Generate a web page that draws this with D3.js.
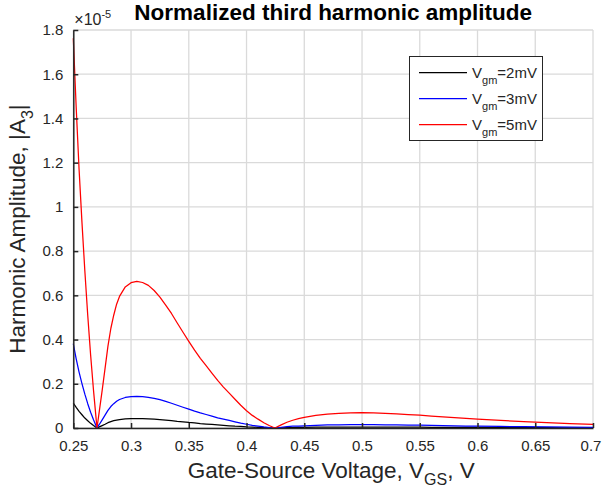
<!DOCTYPE html>
<html>
<head>
<meta charset="utf-8">
<script src="https://cdn.jsdelivr.net/npm/d3@7"></script>
<style>
  html, body { margin: 0; padding: 0; background: #fff; }
  svg { display: block; }
  text { font-family: "Liberation Sans", Arial, Helvetica, sans-serif; }
</style>
</head>
<body>
<svg id="chart" width="602" height="489"></svg>
<script>
// ---------------- data ----------------
const vgs = [0.25, 0.2525, 0.255, 0.2575, 0.26, 0.2625, 0.265, 0.2675, 0.2705,
  0.2725, 0.275, 0.2775, 0.28, 0.2825, 0.285, 0.2875, 0.29, 0.295, 0.3, 0.305,
  0.31, 0.315, 0.32, 0.325, 0.33, 0.335, 0.34, 0.345, 0.35, 0.355, 0.36, 0.365,
  0.37, 0.375, 0.38, 0.385, 0.39, 0.395, 0.4, 0.405, 0.41, 0.415, 0.42, 0.4245,
  0.43, 0.435, 0.44, 0.445, 0.45, 0.46, 0.47, 0.48, 0.49, 0.5, 0.51, 0.52, 0.53,
  0.54, 0.55, 0.56, 0.57, 0.58, 0.59, 0.6, 0.62, 0.64, 0.66, 0.68, 0.7];

// values in units of 1e-5
const amp2mV = [0.113, 0.093, 0.075, 0.060, 0.045, 0.033, 0.021, 0.011, 0,
  0.005, 0.011, 0.017, 0.024, 0.029, 0.033, 0.036, 0.038, 0.041, 0.042, 0.042,
  0.042, 0.041, 0.040, 0.038, 0.036, 0.033, 0.030, 0.028, 0.025, 0.023, 0.020, 0.018,
  0.016, 0.014, 0.012, 0.010, 0.008, 0.007, 0.005, 0.004, 0.003, 0.002, 0.001, 0,
  0.001, 0.002, 0.002, 0.003, 0.003, 0.004, 0.004, 0.004, 0.004, 0.004, 0.004, 0.004, 0.004,
  0.004, 0.004, 0.003, 0.003, 0.003, 0.003, 0.003, 0.002, 0.002, 0.002, 0.001, 0.001];

const amp3mV = [0.381, 0.313, 0.253, 0.201, 0.153, 0.110, 0.071, 0.037, 0,
  0.016, 0.037, 0.058, 0.080, 0.097, 0.110, 0.121, 0.129, 0.138, 0.142, 0.143,
  0.142, 0.139, 0.134, 0.128, 0.120, 0.112, 0.103, 0.094, 0.085, 0.076, 0.068, 0.061,
  0.054, 0.046, 0.040, 0.034, 0.028, 0.022, 0.017, 0.012, 0.009, 0.005, 0.002, 0,
  0.003, 0.006, 0.008, 0.009, 0.010, 0.012, 0.014, 0.014, 0.015, 0.015, 0.015, 0.014, 0.014,
  0.013, 0.013, 0.012, 0.011, 0.010, 0.009, 0.009, 0.007, 0.006, 0.005, 0.004, 0.003];

const amp5mV = [1.763, 1.45, 1.17, 0.93, 0.71, 0.51, 0.33, 0.17, 0,
  0.075, 0.17, 0.27, 0.37, 0.45, 0.51, 0.56, 0.595, 0.638, 0.657, 0.663,
  0.658, 0.645, 0.622, 0.592, 0.556, 0.518, 0.475, 0.433, 0.392, 0.352, 0.315, 0.282,
  0.248, 0.215, 0.185, 0.158, 0.13, 0.103, 0.078, 0.057, 0.04, 0.024, 0.01, 0,
  0.014, 0.026, 0.035, 0.042, 0.048, 0.057, 0.063, 0.066, 0.068, 0.069, 0.068, 0.066, 0.064,
  0.061, 0.058, 0.054, 0.05, 0.047, 0.043, 0.04, 0.034, 0.029, 0.024, 0.02, 0.016];

const seriesNames = ["2mV", "3mV", "5mV"];
const seriesColors = ["#000000", "#0000ff", "#ff0000"];
const seriesValues = [amp2mV, amp3mV, amp5mV];

const xTicks = [0.25, 0.3, 0.35, 0.4, 0.45, 0.5, 0.55, 0.6, 0.65, 0.7];
const xTickLabels = ["0.25", "0.3", "0.35", "0.4", "0.45", "0.5", "0.55", "0.6", "0.65", "0.7"];
const yTicks = [0, 0.2, 0.4, 0.6, 0.8, 1, 1.2, 1.4, 1.6, 1.8];
const yTickLabels = ["0", "0.2", "0.4", "0.6", "0.8", "1", "1.2", "1.4", "1.6", "1.8"];

// ---------------- layout ----------------
const svg = d3.select("#chart");
const pL = 73.3, pR = 593, pT = 30, pB = 428;
const axisColor = "#262626";

const x = d3.scaleLinear().domain([0.25, 0.7]).range([pL, pR]);
const y = d3.scaleLinear().domain([0, 1.8]).range([pB, pT]);

// grid
const grid = svg.append("g");
grid.selectAll("line.vg").data(xTicks).enter().append("line")
  .attr("x1", d => x(d)).attr("x2", d => x(d))
  .attr("y1", pT).attr("y2", pB)
  .attr("stroke", "#dadada").attr("stroke-width", 1.3);
grid.selectAll("line.hg").data(yTicks).enter().append("line")
  .attr("x1", pL).attr("x2", pR)
  .attr("y1", d => y(d)).attr("y2", d => y(d))
  .attr("stroke", "#dadada").attr("stroke-width", 1.3);

// lines
const line = d3.line().x((d, i) => x(vgs[i])).y(d => y(d));
seriesValues.forEach((vals, k) => {
  svg.append("path").datum(vals)
    .attr("d", line)
    .attr("fill", "none")
    .attr("stroke", seriesColors[k])
    .attr("stroke-width", 1.25)
    .attr("stroke-linejoin", "round");
});

// axes
const xAxis = d3.axisBottom(x).tickValues(xTicks)
  .tickFormat((d, i) => xTickLabels[i]).tickSizeInner(-5).tickSizeOuter(0).tickPadding(12);
const gx = svg.append("g").attr("transform", `translate(0,${pB})`).call(xAxis);
gx.select(".domain").attr("stroke", axisColor).attr("stroke-width", 1.5);
gx.selectAll(".tick line").attr("stroke", axisColor).attr("stroke-width", 1.5);
gx.selectAll(".tick text").attr("fill", axisColor).attr("font-size", "15px")
  .attr("font-family", "Liberation Sans, Arial, sans-serif")
  .attr("dx", (d, i) => i === xTicks.length - 1 ? -2.5 : 0);

const yAxis = d3.axisLeft(y).tickValues(yTicks)
  .tickFormat((d, i) => yTickLabels[i]).tickSizeInner(-5).tickSizeOuter(0).tickPadding(10);
const gy = svg.append("g").attr("transform", `translate(${pL},0)`).call(yAxis);
gy.select(".domain").attr("stroke", axisColor).attr("stroke-width", 1.5);
gy.selectAll(".tick line").attr("stroke", axisColor).attr("stroke-width", 1.5);
gy.selectAll(".tick text").attr("fill", axisColor).attr("font-size", "15px")
  .attr("font-family", "Liberation Sans, Arial, sans-serif");

// exponent label
const ex = svg.append("text").attr("x", pL + 1).attr("y", 25)
  .attr("fill", axisColor).attr("font-size", "16px");
ex.append("tspan").text("\u00d710");
ex.append("tspan").attr("dy", -7).attr("font-size", "11px").text("-5");

// title
svg.append("text").attr("x", (pL + pR) / 2).attr("y", 19.5)
  .attr("text-anchor", "middle").attr("font-weight", "bold")
  .attr("font-size", "22.5px").attr("fill", "#000").text("Normalized third harmonic amplitude");

// x label
const xl = svg.append("text").attr("x", (pL + pR) / 2 - 2).attr("y", 478)
  .attr("text-anchor", "middle").attr("font-size", "22.5px").attr("fill", axisColor);
xl.append("tspan").text("Gate-Source Voltage, V");
xl.append("tspan").attr("dy", 7).attr("font-size", "16px").text("GS");
xl.append("tspan").attr("dy", -7).text(", V");

// y label
const yl = svg.append("text")
  .attr("transform", `translate(25,${(pT + pB) / 2}) rotate(-90)`)
  .attr("text-anchor", "middle").attr("font-size", "22.5px").attr("fill", axisColor);
yl.append("tspan").text("Harmonic Amplitude, |A");
yl.append("tspan").attr("dy", 8).attr("font-size", "16px").text("3");
yl.append("tspan").attr("dy", -8).text("|");

// legend
const lg = svg.append("g");
lg.append("rect").attr("x", 409.5).attr("y", 56.5).attr("width", 133).attr("height", 84)
  .attr("fill", "#fff").attr("stroke", "#262626").attr("stroke-width", 1);
seriesNames.forEach((name, k) => {
  const ly = 72.5 + k * 26;
  lg.append("line").attr("x1", 419).attr("x2", 467).attr("y1", ly).attr("y2", ly)
    .attr("stroke", seriesColors[k]).attr("stroke-width", 1.25);
  const t = lg.append("text").attr("x", 472).attr("y", ly + 5.5)
    .attr("font-size", "15px").attr("fill", axisColor);
  t.append("tspan").text("V");
  t.append("tspan").attr("dy", 6).attr("font-size", "11px").text("gm");
  t.append("tspan").attr("dy", -6).text("=" + name);
});
</script>
</body>
</html>
